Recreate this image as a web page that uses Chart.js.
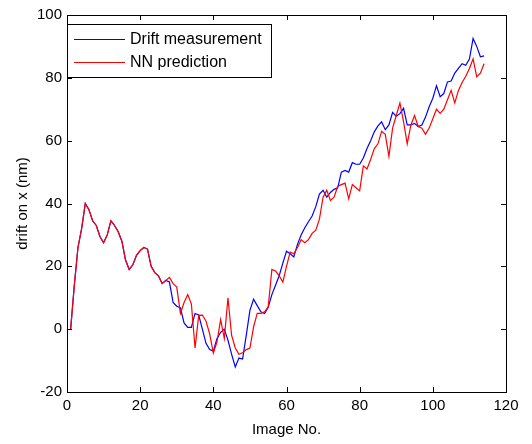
<!DOCTYPE html>
<html>
<head>
<meta charset="utf-8">
<script src="https://cdn.jsdelivr.net/npm/chart.js@4/dist/chart.umd.min.js"></script>
<style>
  html, body { margin: 0; padding: 0; background: #fff; }
  #wrap { width: 532px; height: 444px; }
</style>
</head>
<body>
<div id="wrap"><canvas id="driftChart" width="532" height="444"></canvas></div>
<script>
// image numbers along the x axis
var imageNo = [1,2,3,4,5,6,7,8,9,10,11,12,13,14,15,16,17,18,19,20,
  21,22,23,24,25,26,27,28,29,30,31,32,33,34,35,36,37,38,39,40,
  41,42,43,44,45,46,47,48,49,50,51,52,53,54,55,56,57,58,59,60,
  61,62,63,64,65,66,67,68,69,70,71,72,73,74,75,76,77,78,79,80,
  81,82,83,84,85,86,87,88,89,90,91,92,93,94,95,96,97,98,99,100,
  101,102,103,104,105,106,107,108,109,110,111,112,113,114];

// measured drift (nm)
var driftMeasured = [0,14,26,32,40,38,34.5,33,29.5,27.5,30,34.5,33,31,28,22,19,20.5,23.5,25,
  26,25.5,20,18,17,14.5,15.5,15,8.5,7.3,6.8,2,0.6,0.6,5,4.5,0,-4.5,-6.5,-7,
  -3,-1,0,-3.5,-8,-12,-9.2,-9.5,-2,6,9.5,7.5,5.5,5,7,11,14,17,21,24.8,
  24,23,27,30,32.3,34.2,36,39,43,44.2,42,43.5,44.5,45,50,50.5,50,53,52.5,52.5,
  54.5,57.5,60,62.8,64.7,66,63.5,65,69,67.8,68.6,70.3,65,65,65.5,64.5,65,67.5,70.8,73.5,
  77.5,74,75,78.7,79,81.5,83,84.5,84,86,92.5,90,86.7,87];

// network prediction (nm)
var driftPredicted = [0,14,26,32,40,38,34.5,33,29.5,27.5,30,34.5,33,31,28,22,19,20.5,23.5,25,
  26,25.5,20,18,17,14.5,15.5,16.5,14.5,13.4,5,8.5,11,8,-6,4.4,4.5,2.5,-1.5,-7.6,
  -4,3,-3,10,-2,-6,-8,-7.5,-6.5,-6,0.7,5,5,5.5,7,19,18.5,17,15,20,
  24.5,24,26,28.5,27.5,28.5,30.5,31.5,35,42,44.2,41,42,45.5,46,46.5,41.5,46,45,44,
  52,51,54,57.5,59,63,62,55,64,68,72,66,59,65,68,64.5,64,62,64,67,
  70,68.7,70,73,76,72,76,78.5,80.5,83,86,80.3,81.5,84.5];

var seriesNames = ['Drift measurement', 'NN prediction'];
var seriesColors = ['#0000ff', '#ff0000'];
var xTicks = [0, 20, 40, 60, 80, 100, 120];
var yTicks = [-20, 0, 20, 40, 60, 80, 100];

var fontFamily = '"Liberation Sans", Arial, sans-serif';

function toPoints(xs, ys) {
  return xs.map(function (x, i) { return { x: x, y: ys[i] }; });
}

// box round the plot and tick marks pointing inwards on all four sides
var boxPlugin = {
  id: 'matlabBox',
  afterDraw: function (chart) {
    var ctx = chart.ctx, a = chart.chartArea;
    var xs = chart.scales.x, ys = chart.scales.y;
    var len = 5;
    ctx.save();
    ctx.strokeStyle = '#000';
    ctx.lineWidth = 1;
    ctx.strokeRect(Math.round(a.left) + 0.5, Math.round(a.top) + 0.5,
      Math.round(a.right - a.left), Math.round(a.bottom - a.top));
    ctx.beginPath();
    xTicks.forEach(function (v) {
      var px = Math.round(xs.getPixelForValue(v)) + 0.5;
      ctx.moveTo(px, a.bottom); ctx.lineTo(px, a.bottom - len);
      ctx.moveTo(px, a.top); ctx.lineTo(px, a.top + len);
    });
    yTicks.forEach(function (v) {
      var py = Math.round(ys.getPixelForValue(v)) + 0.5;
      ctx.moveTo(a.left, py); ctx.lineTo(a.left + len, py);
      ctx.moveTo(a.right, py); ctx.lineTo(a.right - len, py);
    });
    ctx.stroke();
    ctx.restore();
  }
};

// legend box in the upper left corner of the plot
var legendPlugin = {
  id: 'boxLegend',
  afterDraw: function (chart) {
    var ctx = chart.ctx, a = chart.chartArea;
    var x0 = a.left, y0 = 24, w = 204, h = 53;
    ctx.save();
    ctx.fillStyle = '#fff';
    ctx.fillRect(x0, y0, w, h);
    ctx.strokeStyle = '#000';
    ctx.lineWidth = 1;
    ctx.strokeRect(Math.round(x0) + 0.5, y0 + 0.5, w, h);
    ctx.font = '16px ' + fontFamily;
    ctx.textBaseline = 'middle';
    chart.data.datasets.forEach(function (ds, i) {
      var ly = y0 + 14.5 + i * 23.5;
      ctx.strokeStyle = ds.borderColor;
      ctx.beginPath();
      ctx.moveTo(x0 + 7, Math.round(ly) + 0.5);
      ctx.lineTo(x0 + 58, Math.round(ly) + 0.5);
      ctx.stroke();
      ctx.fillStyle = '#000';
      ctx.fillText(ds.label, x0 + 63, ly + 1);
    });
    ctx.restore();
  }
};

var ctx = document.getElementById('driftChart').getContext('2d');
var driftChart = new Chart(ctx, {
  type: 'line',
  data: {
    datasets: [{
      label: seriesNames[0],
      data: toPoints(imageNo, driftMeasured),
      borderColor: seriesColors[0],
      order: 2
    }, {
      label: seriesNames[1],
      data: toPoints(imageNo, driftPredicted),
      borderColor: seriesColors[1],
      order: 1
    }]
  },
  options: {
    responsive: false,
    animation: false,
    events: [],
    layout: { padding: { top: 15, right: 26, left: 0, bottom: 0 } },
    elements: {
      point: { radius: 0 },
      line: { borderWidth: 1.2, tension: 0, fill: false }
    },
    plugins: {
      legend: { display: false },
      tooltip: { enabled: false }
    },
    scales: {
      x: {
        type: 'linear',
        min: 0,
        max: 120,
        afterBuildTicks: function (s) { s.ticks = xTicks.map(function (v) { return { value: v }; }); },
        afterFit: function (s) { s.height = 52; },
        grid: { display: false, drawTicks: false },
        border: { display: false },
        ticks: { color: '#000', padding: 5, maxRotation: 0, font: { family: fontFamily, size: 15 } },
        title: { display: true, text: 'Image No.', color: '#000', padding: { top: 4, bottom: 5 }, font: { family: fontFamily, size: 15 } }
      },
      y: {
        type: 'linear',
        min: -20,
        max: 100,
        afterBuildTicks: function (s) { s.ticks = yTicks.map(function (v) { return { value: v }; }); },
        afterFit: function (s) { s.width = 67; },
        grid: { display: false, drawTicks: false },
        border: { display: false },
        ticks: { color: '#000', padding: 5, font: { family: fontFamily, size: 15 } },
        title: { display: true, text: 'drift on x (nm)', color: '#000', padding: { top: 14, bottom: 0 }, font: { family: fontFamily, size: 15 } }
      }
    }
  },
  plugins: [boxPlugin, legendPlugin]
});
</script>
</body>
</html>
